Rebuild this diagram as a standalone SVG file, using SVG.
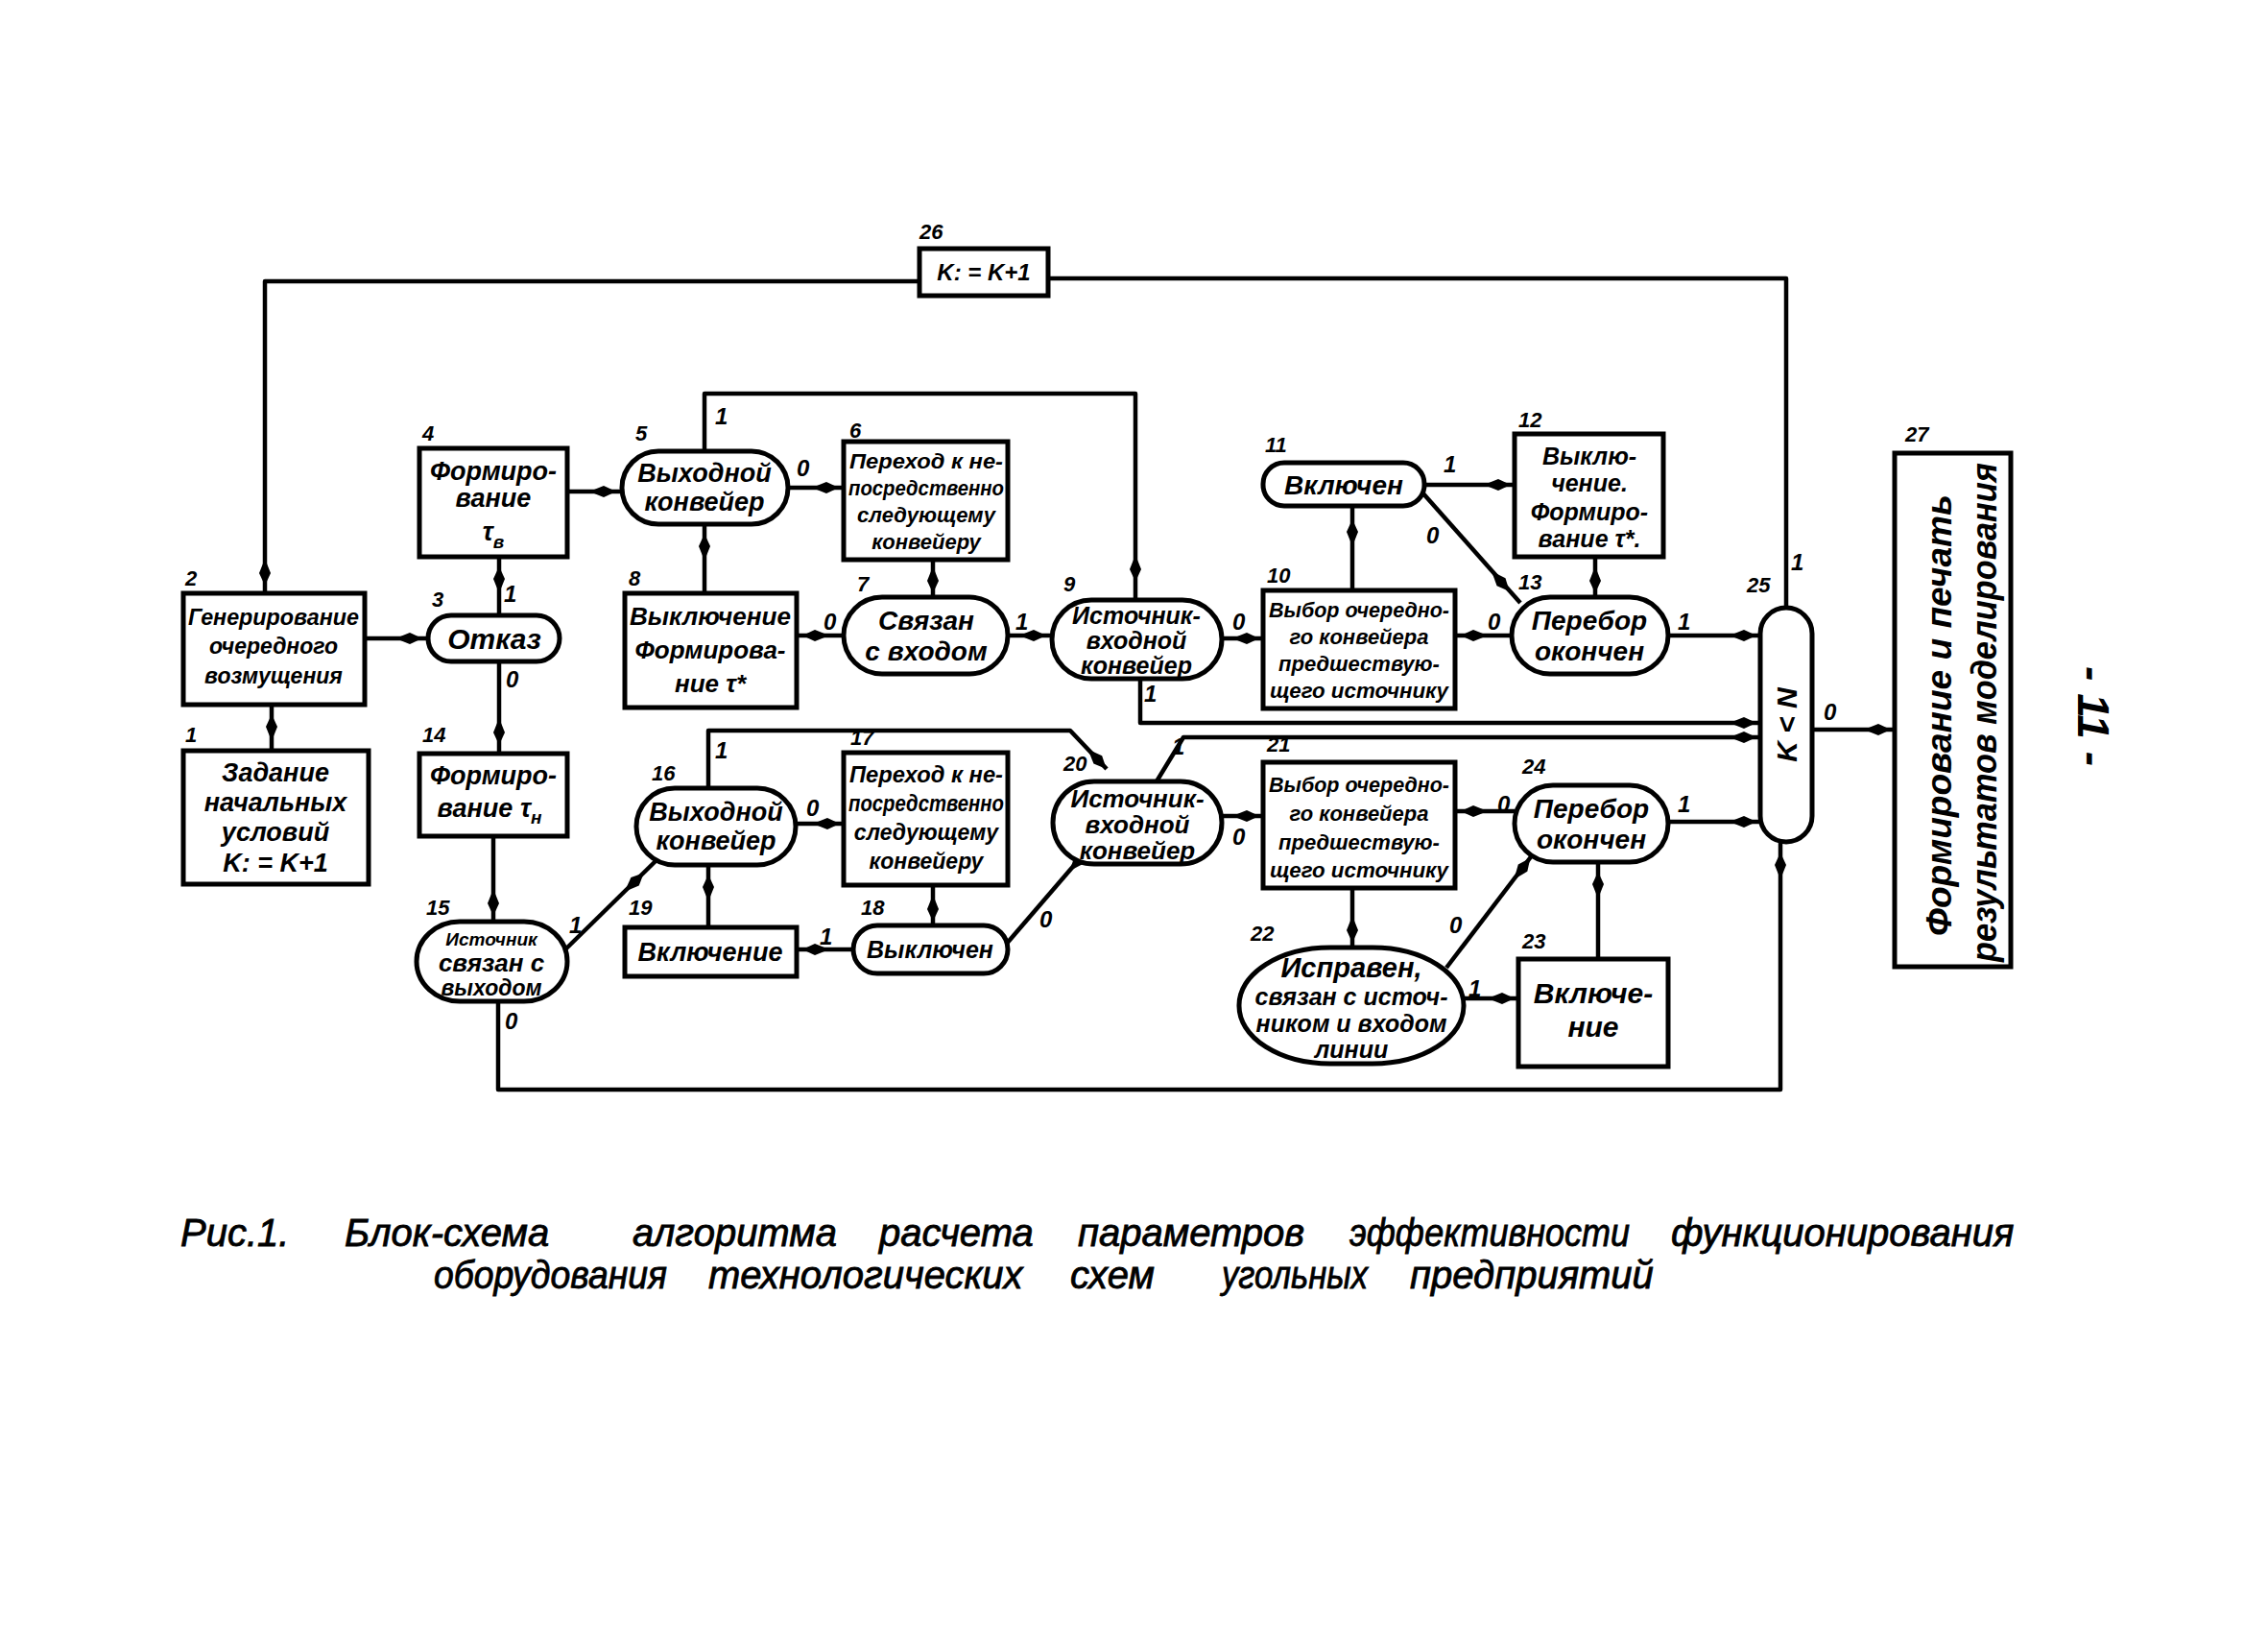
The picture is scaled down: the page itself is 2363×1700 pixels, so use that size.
<svg xmlns="http://www.w3.org/2000/svg" width="2363" height="1700" viewBox="0 0 2363 1700">
<style>
.bx{fill:#fff;stroke:#000;stroke-width:5}
.ln{fill:none;stroke:#000;stroke-width:4.5;stroke-linejoin:round}
.t{font-family:"Liberation Sans",Arial,sans-serif;font-style:italic;font-weight:bold;fill:#000;text-anchor:middle}
.n{font-family:"Liberation Sans",Arial,sans-serif;font-style:italic;font-weight:bold;fill:#000;font-size:22px}
.c{font-family:"Liberation Sans",Arial,sans-serif;font-style:italic;font-weight:bold;fill:#000;font-size:24px}
.cap{font-family:"Liberation Sans",Arial,sans-serif;font-style:italic;fill:#000;font-size:40px;stroke:#000;stroke-width:0.8}
</style>
<defs>
<path id="ah" d="M 4,0 L -9,-6 L -24,0 L -9,6 Z" fill="#000"/>
</defs>
<rect width="2363" height="1700" fill="#fff"/>

<g id="connectors">
<path class="ln" d="M 1861 633 V 290 H 1092"/>
<path class="ln" d="M 958 293 H 276 V 618"/>
<use href="#ah" transform="translate(276,606) rotate(90)"/>
<path class="ln" d="M 283 782 V 734"/>
<use href="#ah" transform="translate(283,748) rotate(-90)"/>
<path class="ln" d="M 380 665 H 446"/>
<use href="#ah" transform="translate(436,665)"/>
<path class="ln" d="M 520 641 V 580"/>
<use href="#ah" transform="translate(520,594) rotate(-90)"/>
<path class="ln" d="M 520 689 V 785"/>
<use href="#ah" transform="translate(520,772) rotate(90)"/>
<path class="ln" d="M 591 512 H 648"/>
<use href="#ah" transform="translate(638,512)"/>
<path class="ln" d="M 734 470 V 410 H 1183 V 625"/>
<use href="#ah" transform="translate(1183,602) rotate(90)"/>
<path class="ln" d="M 821 508 H 879"/>
<use href="#ah" transform="translate(870,508)"/>
<path class="ln" d="M 972 583 V 622"/>
<use href="#ah" transform="translate(972,614) rotate(90)"/>
<path class="ln" d="M 734 618 V 546"/>
<use href="#ah" transform="translate(734,560) rotate(-90)"/>
<path class="ln" d="M 879 662 H 830"/>
<use href="#ah" transform="translate(840,662) rotate(180)"/>
<path class="ln" d="M 1050 662 H 1096"/>
<use href="#ah" transform="translate(1086,662)"/>
<path class="ln" d="M 1273 665 H 1316"/>
<use href="#ah" transform="translate(1308,665)"/>
<path class="ln" d="M 1188 707 V 753 H 1834"/>
<use href="#ah" transform="translate(1826,753)"/>
<path class="ln" d="M 1409 615 V 527"/>
<use href="#ah" transform="translate(1409,545) rotate(-90)"/>
<path class="ln" d="M 1484 505 H 1578"/>
<use href="#ah" transform="translate(1570,505)"/>
<path class="ln" d="M 1481 512 L 1584 628"/>
<use href="#ah" transform="translate(1570,613) rotate(48.4)"/>
<path class="ln" d="M 1662 580 V 622"/>
<use href="#ah" transform="translate(1662,614) rotate(90)"/>
<path class="ln" d="M 1575 662 H 1516"/>
<use href="#ah" transform="translate(1526,662) rotate(180)"/>
<path class="ln" d="M 1738 662 H 1834"/>
<use href="#ah" transform="translate(1826,662)"/>
<path class="ln" d="M 514 871 V 960"/>
<use href="#ah" transform="translate(514,950) rotate(90)"/>
<path class="ln" d="M 588 990 L 683 897"/>
<use href="#ah" transform="translate(668,912) rotate(-44.4)"/>
<path class="ln" d="M 519 1043 V 1135 H 1855 V 877"/>
<use href="#ah" transform="translate(1855,892) rotate(-90)"/>
<path class="ln" d="M 738 821 V 761 H 1115 L 1153 801"/>
<use href="#ah" transform="translate(1150,798) rotate(46.5)"/>
<path class="ln" d="M 829 858 H 879"/>
<use href="#ah" transform="translate(871,858)"/>
<path class="ln" d="M 972 922 V 964"/>
<use href="#ah" transform="translate(972,956) rotate(90)"/>
<path class="ln" d="M 738 966 V 901"/>
<use href="#ah" transform="translate(738,915) rotate(-90)"/>
<path class="ln" d="M 889 989 H 830"/>
<use href="#ah" transform="translate(840,989) rotate(180)"/>
<path class="ln" d="M 1047 985 L 1140 877"/>
<use href="#ah" transform="translate(1130,889) rotate(-49.3)"/>
<path class="ln" d="M 1205 814 L 1233 768 H 1834"/>
<use href="#ah" transform="translate(1826,768)"/>
<path class="ln" d="M 1273 850 H 1316"/>
<use href="#ah" transform="translate(1308,850)"/>
<path class="ln" d="M 1578 845 H 1516"/>
<use href="#ah" transform="translate(1526,845) rotate(180)"/>
<path class="ln" d="M 1738 856 H 1834"/>
<use href="#ah" transform="translate(1826,856)"/>
<path class="ln" d="M 1409 925 V 990"/>
<use href="#ah" transform="translate(1409,978) rotate(90)"/>
<path class="ln" d="M 1507 1008 L 1600 886"/>
<use href="#ah" transform="translate(1592,897) rotate(-52.7)"/>
<path class="ln" d="M 1525 1040 H 1582"/>
<use href="#ah" transform="translate(1574,1040)"/>
<path class="ln" d="M 1665 999 V 898"/>
<use href="#ah" transform="translate(1665,912) rotate(-90)"/>
<path class="ln" d="M 1888 760 H 1974"/>
<use href="#ah" transform="translate(1966,760)"/>
</g>

<g id="connector-labels">
<text class="c" x="525" y="627">1</text>
<text class="c" x="527" y="716">0</text>
<text class="c" x="745" y="442">1</text>
<text class="c" x="830" y="496">0</text>
<text class="c" x="858" y="656">0</text>
<text class="c" x="1058" y="656">1</text>
<text class="c" x="1284" y="656">0</text>
<text class="c" x="1192" y="731">1</text>
<text class="c" x="1504" y="492">1</text>
<text class="c" x="1486" y="566">0</text>
<text class="c" x="1550" y="656">0</text>
<text class="c" x="1748" y="656">1</text>
<text class="c" x="1866" y="594">1</text>
<text class="c" x="1900" y="750">0</text>
<text class="c" x="745" y="790">1</text>
<text class="c" x="840" y="850">0</text>
<text class="c" x="593" y="972">1</text>
<text class="c" x="526" y="1072">0</text>
<text class="c" x="854" y="984">1</text>
<text class="c" x="1083" y="966">0</text>
<text class="c" x="1221" y="786">1</text>
<text class="c" x="1284" y="880">0</text>
<text class="c" x="1560" y="846">0</text>
<text class="c" x="1748" y="846">1</text>
<text class="c" x="1510" y="972">0</text>
<text class="c" x="1530" y="1038">1</text>
</g>

<g id="node26">
<rect class="bx" x="958" y="259" width="134" height="49"/>
<text class="n" x="958" y="249">26</text>
<text class="t" x="1025" y="292" font-size="24">K: = K+1</text>
</g>

<g id="node1">
<rect class="bx" x="191" y="782" width="193" height="139"/>
<text class="n" x="193" y="773">1</text>
<text class="t" font-size="27" x="287"><tspan x="287" y="814">Задание</tspan><tspan x="287" y="845">начальных</tspan><tspan x="287" y="876">условий</tspan><tspan x="287" y="908">K: = K+1</tspan></text>
</g>

<g id="node2">
<rect class="bx" x="191" y="618" width="189" height="116"/>
<text class="n" x="193" y="610">2</text>
<text class="t" font-size="23" x="285"><tspan x="285" y="651" textLength="178" lengthAdjust="spacingAndGlyphs">Генерирование</tspan><tspan x="285" y="681">очередного</tspan><tspan x="285" y="712">возмущения</tspan></text>
</g>

<g id="node3">
<rect class="bx" x="446" y="641" width="137" height="48" rx="24"/>
<text class="n" x="450" y="632">3</text>
<text class="t" font-size="30" x="515" y="676">Отказ</text>
</g>

<g id="node4">
<rect class="bx" x="437" y="467" width="154" height="113"/>
<text class="n" x="440" y="459">4</text>
<text class="t" font-size="27" x="514"><tspan x="514" y="500">Формиро-</tspan><tspan x="514" y="528">вание</tspan><tspan x="514" y="563">τ<tspan font-size="19" dy="8">в</tspan></tspan></text>
</g>

<g id="node5">
<rect class="bx" x="648" y="470" width="173" height="76" rx="38"/>
<text class="n" x="662" y="459">5</text>
<text class="t" font-size="27" x="734"><tspan x="734" y="502">Выходной</tspan><tspan x="734" y="532">конвейер</tspan></text>
</g>

<g id="node6">
<rect class="bx" x="879" y="460" width="171" height="123"/>
<text class="n" x="885" y="456">6</text>
<text class="t" font-size="22" x="965"><tspan x="965" y="488" textLength="160" lengthAdjust="spacingAndGlyphs">Переход к не-</tspan><tspan x="965" y="516" textLength="162" lengthAdjust="spacingAndGlyphs">посредственно</tspan><tspan x="965" y="544">следующему</tspan><tspan x="965" y="572">конвейеру</tspan></text>
</g>

<g id="node7">
<rect class="bx" x="879" y="622" width="171" height="80" rx="40"/>
<text class="n" x="893" y="616">7</text>
<text class="t" font-size="28" x="965"><tspan x="965" y="656">Связан</tspan><tspan x="965" y="688">с  входом</tspan></text>
</g>

<g id="node8">
<rect class="bx" x="651" y="618" width="179" height="119"/>
<text class="n" x="655" y="610">8</text>
<text class="t" font-size="26" x="740"><tspan x="740" y="651" textLength="168" lengthAdjust="spacingAndGlyphs">Выключение</tspan><tspan x="740" y="686">Формирова-</tspan><tspan x="740" y="721">ние    τ*</tspan></text>
</g>

<g id="node9">
<rect class="bx" x="1096" y="625" width="177" height="82" rx="41"/>
<text class="n" x="1108" y="616">9</text>
<text class="t" font-size="25" x="1184"><tspan x="1184" y="650">Источник-</tspan><tspan x="1184" y="676">входной</tspan><tspan x="1184" y="702">конвейер</tspan></text>
</g>

<g id="node10">
<rect class="bx" x="1316" y="615" width="200" height="123"/>
<text class="n" x="1320" y="607">10</text>
<text class="t" font-size="22" x="1416"><tspan x="1416" y="643" textLength="188" lengthAdjust="spacingAndGlyphs">Выбор очередно-</tspan><tspan x="1416" y="671">го конвейера</tspan><tspan x="1416" y="699">предшествую-</tspan><tspan x="1416" y="727" textLength="186" lengthAdjust="spacingAndGlyphs">щего источнику</tspan></text>
</g>

<g id="node11">
<rect class="bx" x="1316" y="482" width="168" height="45" rx="22"/>
<text class="n" x="1318" y="471">11</text>
<text class="t" font-size="28" x="1400" y="515">Включен</text>
</g>

<g id="node12">
<rect class="bx" x="1578" y="452" width="155" height="128"/>
<text class="n" x="1582" y="445">12</text>
<text class="t" font-size="25" x="1656"><tspan x="1656" y="484">Выклю-</tspan><tspan x="1656" y="512">чение.</tspan><tspan x="1656" y="542">Формиро-</tspan><tspan x="1656" y="570">вание τ*.</tspan></text>
</g>

<g id="node13">
<rect class="bx" x="1575" y="622" width="163" height="80" rx="40"/>
<text class="n" x="1582" y="614">13</text>
<text class="t" font-size="28" x="1656"><tspan x="1656" y="656">Перебор</tspan><tspan x="1656" y="688">окончен</tspan></text>
</g>

<g id="node14">
<rect class="bx" x="437" y="785" width="154" height="86"/>
<text class="n" x="440" y="773">14</text>
<text class="t" font-size="27" x="514"><tspan x="514" y="817">Формиро-</tspan><tspan x="510" y="851">вание  τ<tspan font-size="19" dy="7">н</tspan></tspan></text>
</g>

<g id="node15">
<rect class="bx" x="434" y="960" width="157" height="83" rx="45"/>
<text class="n" x="444" y="953">15</text>
<text class="t" x="512"><tspan x="512" y="985" font-size="19">Источник</tspan><tspan x="512" y="1012" font-size="26">связан с</tspan><tspan x="512" y="1037" font-size="23">выходом</tspan></text>
</g>

<g id="node16">
<rect class="bx" x="663" y="821" width="166" height="80" rx="40"/>
<text class="n" x="679" y="813">16</text>
<text class="t" font-size="27" x="746"><tspan x="746" y="855">Выходной</tspan><tspan x="746" y="885">конвейер</tspan></text>
</g>

<g id="node17">
<rect class="bx" x="879" y="784" width="171" height="138"/>
<text class="n" x="886" y="776">17</text>
<text class="t" font-size="23" x="965"><tspan x="965" y="815" textLength="160" lengthAdjust="spacingAndGlyphs">Переход к не-</tspan><tspan x="965" y="845" textLength="162" lengthAdjust="spacingAndGlyphs">посредственно</tspan><tspan x="965" y="875">следующему</tspan><tspan x="965" y="905">конвейеру</tspan></text>
</g>

<g id="node18">
<rect class="bx" x="889" y="964" width="161" height="50" rx="25"/>
<text class="n" x="897" y="953">18</text>
<text class="t" font-size="25" x="969" y="998">Выключен</text>
</g>

<g id="node19">
<rect class="bx" x="651" y="966" width="179" height="51"/>
<text class="n" x="655" y="953">19</text>
<text class="t" font-size="27" x="740" y="1001">Включение</text>
</g>

<g id="node20">
<rect class="bx" x="1097" y="814" width="176" height="86" rx="43"/>
<text class="n" x="1108" y="803">20</text>
<text class="t" font-size="26" x="1185"><tspan x="1185" y="841">Источник-</tspan><tspan x="1185" y="868">входной</tspan><tspan x="1185" y="895">конвейер</tspan></text>
</g>

<g id="node21">
<rect class="bx" x="1316" y="794" width="200" height="131"/>
<text class="n" x="1320" y="783">21</text>
<text class="t" font-size="22" x="1416"><tspan x="1416" y="825" textLength="188" lengthAdjust="spacingAndGlyphs">Выбор очередно-</tspan><tspan x="1416" y="855">го конвейера</tspan><tspan x="1416" y="885">предшествую-</tspan><tspan x="1416" y="914" textLength="186" lengthAdjust="spacingAndGlyphs">щего источнику</tspan></text>
</g>

<g id="node22">
<rect class="bx" x="1291" y="987" width="234" height="121" rx="95" ry="60"/>
<text class="n" x="1303" y="980">22</text>
<text class="t" x="1408"><tspan x="1408" y="1018" font-size="29">Исправен,</tspan><tspan x="1408" y="1047" font-size="25">связан с источ-</tspan><tspan x="1408" y="1075" font-size="25">ником и входом</tspan><tspan x="1408" y="1102" font-size="25">линии</tspan></text>
</g>

<g id="node23">
<rect class="bx" x="1582" y="999" width="156" height="112"/>
<text class="n" x="1586" y="988">23</text>
<text class="t" font-size="30" x="1660"><tspan x="1660" y="1045">Включе-</tspan><tspan x="1660" y="1080">ние</tspan></text>
</g>

<g id="node24">
<rect class="bx" x="1578" y="818" width="160" height="80" rx="40"/>
<text class="n" x="1586" y="806">24</text>
<text class="t" font-size="28" x="1658"><tspan x="1658" y="852">Перебор</tspan><tspan x="1658" y="884">окончен</tspan></text>
</g>

<g id="node25">
<rect class="bx" x="1834" y="633" width="54" height="244" rx="27"/>
<text class="n" x="1820" y="617">25</text>
<text class="t" font-size="30" transform="translate(1872,755) rotate(-90)" x="0" y="0">K  &lt;  N</text>
</g>

<g id="node27">
<rect class="bx" x="1974" y="472" width="121" height="535"/>
<text class="n" x="1985" y="460">27</text>
<text class="t" font-size="36" transform="translate(2033,745) rotate(-90)" x="0" y="0" textLength="460" lengthAdjust="spacingAndGlyphs">Формирование  и  печать</text>
<text class="t" font-size="36" transform="translate(2080,742) rotate(-90)" x="0" y="0" textLength="520" lengthAdjust="spacingAndGlyphs">результатов  моделирования</text>
</g>

<text class="t" font-size="46" transform="translate(2165,746) rotate(90)" x="0" y="0">- 11 -</text>

<g id="caption">
<text class="cap" x="188" y="1298">Рис.1.</text>
<text class="cap" x="359" y="1298">Блок-схема</text>
<text class="cap" x="659" y="1298">алгоритма</text>
<text class="cap" x="916" y="1298">расчета</text>
<text class="cap" x="1123" y="1298">параметров</text>
<text class="cap" x="1406" y="1298" textLength="292" lengthAdjust="spacingAndGlyphs">эффективности</text>
<text class="cap" x="1741" y="1298">функционирования</text>
<text class="cap" x="452" y="1342" textLength="243" lengthAdjust="spacingAndGlyphs">оборудования</text>
<text class="cap" x="738" y="1342">технологических</text>
<text class="cap" x="1115" y="1342">схем</text>
<text class="cap" x="1273" y="1342" textLength="152" lengthAdjust="spacingAndGlyphs">угольных</text>
<text class="cap" x="1469" y="1342">предприятий</text>
</g>
</svg>
